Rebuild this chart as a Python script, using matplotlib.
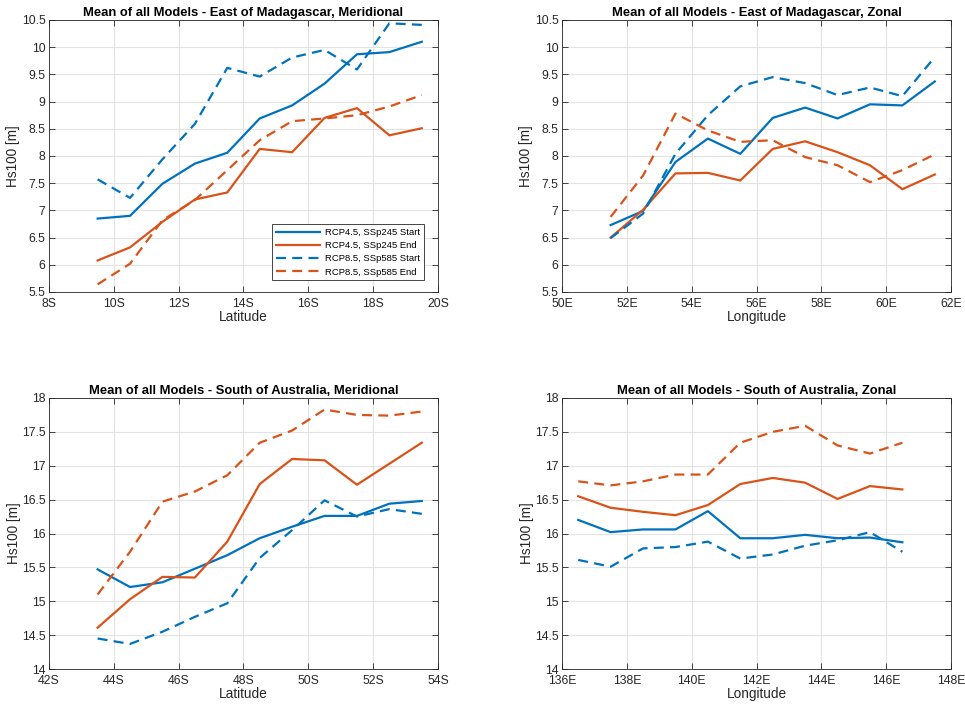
import numpy as np
import matplotlib
matplotlib.use("Agg")
import matplotlib.pyplot as plt
from matplotlib.ticker import FuncFormatter, MultipleLocator

plt.rcParams['font.family'] = ['Liberation Sans', 'DejaVu Sans']

# x positions of the sections
lat_mad = [9.5, 10.5, 11.5, 12.5, 13.5, 14.5, 15.5, 16.5, 17.5, 18.5, 19.5]
lon_mad = [51.5, 52.5, 53.5, 54.5, 55.5, 56.5, 57.5, 58.5, 59.5, 60.5, 61.5]
lat_aus = [43.5, 44.5, 45.5, 46.5, 47.5, 48.5, 49.5, 50.5, 51.5, 52.5, 53.5]
lon_aus = [136.5, 137.5, 138.5, 139.5, 140.5, 141.5, 142.5, 143.5, 144.5, 145.5, 146.5]

# East of Madagascar, meridional
mad_mer_245_start = [6.85, 6.90, 7.49, 7.86, 8.06, 8.69, 8.93, 9.33, 9.87, 9.91, 10.10]
mad_mer_245_end = [6.08, 6.32, 6.79, 7.20, 7.33, 8.13, 8.07, 8.70, 8.88, 8.38, 8.51]
mad_mer_585_start = [7.57, 7.23, 7.94, 8.59, 9.62, 9.46, 9.81, 9.95, 9.59, 10.44, 10.41]
mad_mer_585_end = [5.64, 6.02, 6.82, 7.19, 7.74, 8.29, 8.64, 8.69, 8.75, 8.91, 9.12]

# East of Madagascar, zonal
mad_zon_245_start = [6.73, 6.99, 7.89, 8.32, 8.04, 8.70, 8.89, 8.69, 8.95, 8.93, 9.37]
mad_zon_245_end = [6.50, 7.01, 7.68, 7.69, 7.55, 8.13, 8.27, 8.07, 7.83, 7.39, 7.66]
mad_zon_585_start = [6.49, 6.94, 8.04, 8.75, 9.28, 9.45, 9.34, 9.12, 9.26, 9.10, 9.82]
mad_zon_585_end = [6.88, 7.64, 8.78, 8.47, 8.26, 8.29, 7.98, 7.83, 7.52, 7.74, 8.03]

# South of Australia, meridional
aus_mer_245_start = [15.47, 15.21, 15.28, 15.48, 15.68, 15.93, 16.10, 16.26, 16.26, 16.44, 16.48]
aus_mer_245_end = [14.61, 15.03, 15.36, 15.35, 15.88, 16.73, 17.10, 17.08, 16.72, 17.03, 17.34]
aus_mer_585_start = [14.45, 14.37, 14.55, 14.77, 14.97, 15.64, 16.05, 16.49, 16.25, 16.36, 16.29]
aus_mer_585_end = [15.10, 15.73, 16.47, 16.62, 16.86, 17.34, 17.52, 17.83, 17.75, 17.74, 17.80]

# South of Australia, zonal
aus_zon_245_start = [16.20, 16.02, 16.06, 16.06, 16.33, 15.93, 15.93, 15.98, 15.93, 15.94, 15.87]
aus_zon_245_end = [16.55, 16.38, 16.32, 16.27, 16.42, 16.73, 16.82, 16.75, 16.51, 16.70, 16.65]
aus_zon_585_start = [15.61, 15.51, 15.78, 15.80, 15.88, 15.63, 15.69, 15.82, 15.90, 16.02, 15.73]
aus_zon_585_end = [16.77, 16.71, 16.77, 16.87, 16.87, 17.34, 17.50, 17.59, 17.30, 17.18, 17.34]

labels = ["RCP4.5, SSp245 Start", "RCP4.5, SSp245 End",
          "RCP8.5, SSp585 Start", "RCP8.5, SSp585 End"]
blue = "#0072BD"
orange = "#D95319"
styles = [(blue, "-"), (orange, "-"), (blue, "--"), (orange, "--")]

W, H = 965, 704
fig = plt.figure(figsize=(W / 100, H / 100), dpi=100)


def make_axes(x0, x1, y0, y1):
    return fig.add_axes([x0 / W, 1 - y1 / H, (x1 - x0) / W, (y1 - y0) / H])


def setup(ax, title, xlabel, xlim, ylim, suffix):
    ax.set_xlim(*xlim)
    ax.set_ylim(*ylim)
    ax.xaxis.set_major_locator(MultipleLocator(2))
    ax.yaxis.set_major_locator(MultipleLocator(0.5))
    ax.xaxis.set_major_formatter(FuncFormatter(lambda v, p: "%d%s" % (round(v), suffix)))
    ax.yaxis.set_major_formatter(FuncFormatter(lambda v, p: ("%g" % v)))
    ax.grid(True, color="#e3e3e3", linewidth=0.8)
    ax.set_axisbelow(True)
    ax.tick_params(direction="in", length=4, width=0.6, colors="#262626",
                   labelsize=8.8, top=True, right=True)
    ax.tick_params(axis="x", pad=4.5)
    ax.tick_params(axis="y", pad=2.5)
    for s in ax.spines.values():
        s.set_color("#262626")
        s.set_linewidth(0.6)
    ax.set_title(title, fontsize=9.4, fontweight="bold", pad=3)
    ax.set_xlabel(xlabel, fontsize=9.8, color="#262626", labelpad=0)
    ax.set_ylabel("Hs100 [m]", fontsize=9.8, color="#262626", labelpad=1)


def draw(ax, x, series):
    lines = []
    for ys, (c, ls) in zip(series, styles):
        l, = ax.plot(x, ys, color=c, linestyle=ls, linewidth=1.6,
                     dashes=(4.5, 2.8) if ls == "--" else (None, None))
        lines.append(l)
    return lines


ax1 = make_axes(49, 438, 20, 292)
lines = draw(ax1, lat_mad, [mad_mer_245_start, mad_mer_245_end, mad_mer_585_start, mad_mer_585_end])
setup(ax1, "Mean of all Models - East of Madagascar, Meridional", "Latitude", (8, 20), (5.5, 10.5), "S")
leg = ax1.legend(lines, labels, loc="lower right", bbox_to_anchor=(0.975, 0.025), fontsize=6.8,
                 fancybox=False, framealpha=1, edgecolor="#262626", handlelength=4.7,
                 borderpad=0.4, labelspacing=0.45, handletextpad=0.5)
leg.get_frame().set_linewidth(0.6)

ax2 = make_axes(562, 951, 20, 292)
draw(ax2, lon_mad, [mad_zon_245_start, mad_zon_245_end, mad_zon_585_start, mad_zon_585_end])
setup(ax2, "Mean of all Models - East of Madagascar, Zonal", "Longitude", (50, 62), (5.5, 10.5), "E")

ax3 = make_axes(49, 438, 398, 669)
draw(ax3, lat_aus, [aus_mer_245_start, aus_mer_245_end, aus_mer_585_start, aus_mer_585_end])
setup(ax3, "Mean of all Models - South of Australia, Meridional", "Latitude", (42, 54), (14, 18), "S")

ax4 = make_axes(562, 951, 398, 669)
draw(ax4, lon_aus, [aus_zon_245_start, aus_zon_245_end, aus_zon_585_start, aus_zon_585_end])
setup(ax4, "Mean of all Models - South of Australia, Zonal", "Longitude", (136, 148), (14, 18), "E")

fig.savefig("out.png", dpi=100, facecolor="white")
